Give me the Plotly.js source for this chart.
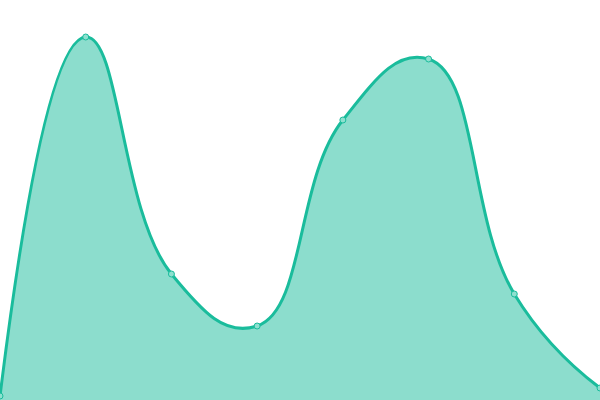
<!DOCTYPE html>
<html>
<head>
<meta charset="utf-8">
<script src="https://cdn.plot.ly/plotly-3.0.1.min.js"></script>
<style>html,body{margin:0;padding:0;background:#fff;}#chart{width:600px;height:400px;}</style>
</head>
<body>
<div id="chart"></div>
<script>
const xValues = [0, 1, 2, 3, 4, 5, 6, 7];
const yValues = [1, 90.75, 31.5, 18.5, 70, 85.25, 26.5, 3];

const trace = {
  x: xValues,
  y: yValues,
  type: 'scatter',
  mode: 'lines+markers',
  fill: 'tozeroy',
  fillcolor: 'rgba(26,188,156,0.5)',
  line: {shape: 'spline', smoothing: 1.3, color: '#1abc9c', width: 3},
  marker: {size: 6, color: '#8ee0cf', line: {color: '#1abc9c', width: 1}},
  hoverinfo: 'x+y'
};

const layout = {
  width: 600,
  height: 400,
  margin: {l: 0, r: 0, t: 0, b: 0, pad: 0},
  paper_bgcolor: '#ffffff',
  plot_bgcolor: '#ffffff',
  showlegend: false,
  xaxis: {range: [0, 7], visible: false, fixedrange: true},
  yaxis: {range: [0, 100], visible: false, fixedrange: true}
};

Plotly.newPlot('chart', [trace], layout, {displayModeBar: false});
</script>
</body>
</html>
